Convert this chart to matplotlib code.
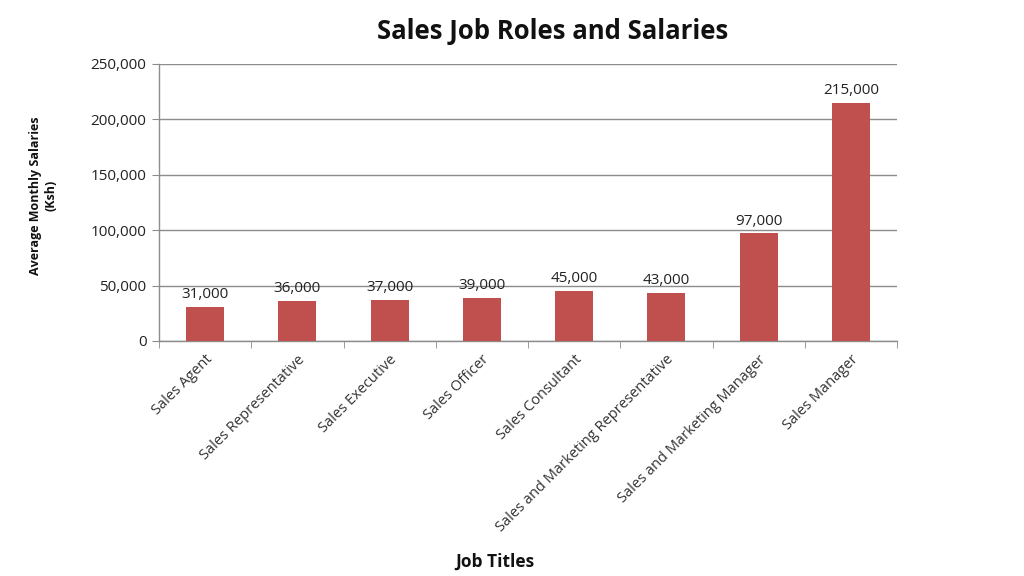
import matplotlib.pyplot as plt
import numpy as np
from matplotlib.ticker import FuncFormatter, FixedLocator

plt.rcParams['font.family'] = ['Open Sans', 'DejaVu Sans']

jobs = ['Sales Agent', 'Sales Representative', 'Sales Executive', 'Sales Officer',
        'Sales Consultant', 'Sales and Marketing Representative',
        'Sales and Marketing Manager', 'Sales Manager']
salaries = [31000, 36000, 37000, 39000, 45000, 43000, 97000, 215000]
yticks = [0, 50000, 100000, 150000, 200000, 250000]

fig = plt.figure(figsize=(10.24, 5.76), dpi=100)
ax = fig.add_axes([0.1553, 0.408, 0.7207, 0.481])

x = np.arange(len(jobs))
bars = ax.bar(x, salaries, width=0.41, color='#C0504D', zorder=3)

for xi, v in zip(x, salaries):
    ax.text(xi, v + 4500, f'{v:,}', ha='center', va='bottom', fontsize=11, color='#222222')

ax.set_xlim(-0.5, len(jobs) - 0.5)
ax.set_ylim(0, 250000)
ax.set_yticks(yticks)
ax.yaxis.set_major_formatter(FuncFormatter(lambda v, p: f'{int(v):,}'))
ax.grid(axis='y', color='#8c8c8c', linewidth=1.0, zorder=0)

ax.set_xticks(x)
ax.set_xticklabels(jobs, rotation=45, ha='right', rotation_mode='anchor', fontsize=10.5, color='#333333')
ax.tick_params(axis='x', which='major', length=0, pad=8)
ax.xaxis.set_minor_locator(FixedLocator(np.arange(-0.5, len(jobs), 1.0)))
ax.tick_params(axis='x', which='minor', length=5, color='#8c8c8c', direction='out')
ax.tick_params(axis='y', length=5, color='#8c8c8c', labelsize=11, labelcolor='#222222', pad=4)

for s in ['top', 'right']:
    ax.spines[s].set_visible(False)
for s in ['left', 'bottom']:
    ax.spines[s].set_color('#8c8c8c')
    ax.spines[s].set_linewidth(1.0)

fig.text(0.54, 0.945, 'Sales Job Roles and Salaries', ha='center', va='center',
         fontsize=18.5, fontweight='bold', color='#111111')
fig.text(0.483, 0.024, 'Job Titles', ha='center', va='center', fontsize=12.5, fontweight='bold', color='#111111')
fig.text(0.042, 0.66, 'Average Monthly Salaries\n(Ksh)', ha='center', va='center', rotation=90,
         fontsize=9, fontweight='bold', color='#111111', linespacing=1.25)

fig.savefig('out.png', dpi=100)
